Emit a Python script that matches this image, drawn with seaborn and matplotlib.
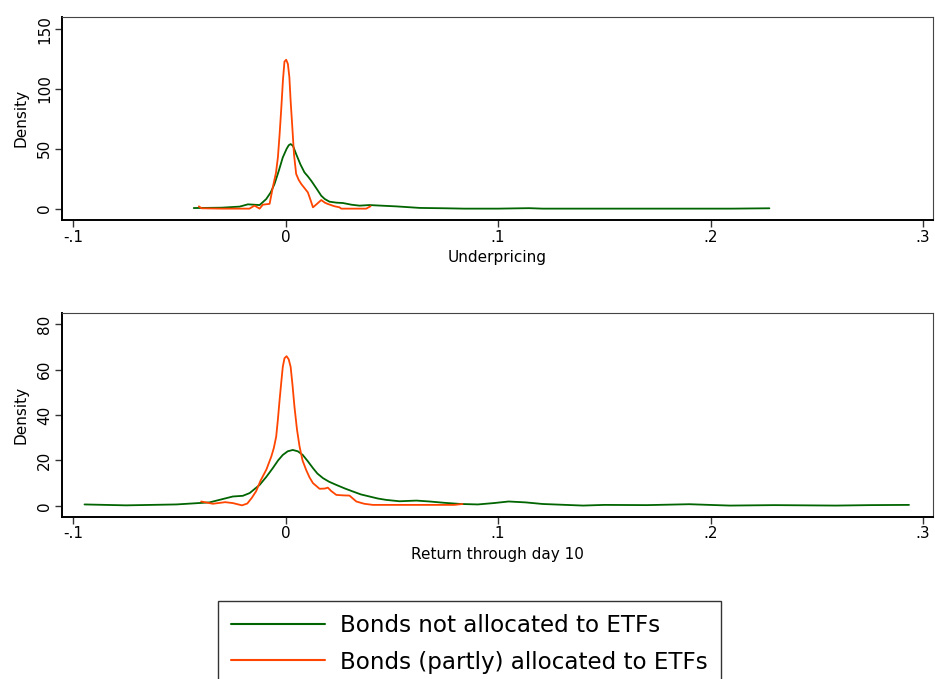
import matplotlib
matplotlib.use("Agg")
import matplotlib.pyplot as plt
import seaborn as sns
import pandas as pd

# ---- Data ----
# Panel 1: Underpricing
up_not_x = [-0.0432, -0.030, -0.0216, -0.0177, -0.0122, -0.0091, -0.0070, -0.0052, -0.0032,
            -0.0013, 0.0005, 0.0015, 0.0024, 0.0035, 0.0050, 0.0070, 0.0089, 0.0105,
            0.0121, 0.0145, 0.0168, 0.0185, 0.0207, 0.0240, 0.0270, 0.0310, 0.0348,
            0.0395, 0.0450, 0.0520, 0.0632, 0.0750, 0.0841, 0.1000, 0.1146, 0.1210,
            0.1500, 0.1800, 0.2100, 0.2277]
up_not_y = [0.5, 0.8, 1.7, 3.6, 3.0, 8.0, 13.5, 20.6, 31.5,
            42.8, 50.0, 53.0, 54.0, 52.5, 45.6, 37.0, 30.3, 27.0,
            23.3, 17.0, 10.8, 8.0, 5.8, 5.0, 4.7, 3.3, 2.5,
            3.0, 2.5, 1.9, 0.6, 0.3, 0.0, 0.0, 0.4, 0.0,
            0.0, 0.0, 0.0, 0.3]
up_etf_x = [-0.0408, -0.0395, -0.030, -0.017, -0.0146, -0.0122, -0.0107, -0.0075, -0.0060,
            -0.0045, -0.0036, -0.0028, -0.0020, -0.0012, -0.0005, 0.0003, 0.0011, 0.0018,
            0.0024, 0.0031, 0.0040, 0.0050, 0.0062, 0.0074, 0.0090, 0.0105, 0.0118,
            0.0129, 0.0145, 0.0168, 0.0185, 0.0199, 0.0230, 0.0254, 0.0262, 0.0380, 0.0400]
up_etf_y = [1.9, 0.3, 0.0, 0.0, 2.5, 0.0, 3.3, 4.0, 17.8,
            30.0, 42.8, 62.0, 84.0, 108.0, 123.0, 124.5, 121.0, 110.0,
            90.0, 70.6, 45.0, 29.0, 24.0, 20.6, 17.0, 13.6, 7.0,
            1.1, 3.5, 7.2, 5.0, 3.9, 2.0, 1.1, 0.0, 0.0, 2.0]

# Panel 2: Return through day 10
rt_not_x = [-0.0946, -0.075, -0.0514, -0.0358, -0.0248, -0.0201, -0.0169, -0.0122, -0.0090,
            -0.0060, -0.0035, -0.0013, 0.0010, 0.0034, 0.0058, 0.0081, 0.0105, 0.0129,
            0.0150, 0.0176, 0.0205, 0.0239, 0.0280, 0.0317, 0.0355, 0.0395, 0.0435,
            0.0474, 0.0536, 0.0616, 0.0678, 0.0750, 0.0825, 0.0905, 0.0980, 0.1050,
            0.1130, 0.1210, 0.1400, 0.1500, 0.1700, 0.1900, 0.2090, 0.2300, 0.2590,
            0.2750, 0.2934]
rt_not_y = [0.6, 0.2, 0.6, 1.5, 4.1, 4.4, 5.6, 9.2, 12.8,
            16.6, 20.0, 22.4, 24.0, 24.6, 24.0, 22.4, 19.6, 16.6,
            14.2, 12.2, 10.6, 9.2, 7.6, 6.3, 5.0, 4.1, 3.2,
            2.6, 2.0, 2.3, 1.9, 1.3, 0.8, 0.6, 1.2, 1.9,
            1.5, 0.8, 0.1, 0.4, 0.3, 0.7, 0.1, 0.3, 0.1,
            0.3, 0.4]
rt_etf_x = [-0.0397, -0.0342, -0.0284, -0.0248, -0.0205, -0.0180, -0.0158, -0.0138, -0.0118,
            -0.0090, -0.0067, -0.0055, -0.0044, -0.0036, -0.0028, -0.0020, -0.0013, -0.0005,
            0.0005, 0.0015, 0.0024, 0.0033, 0.0042, 0.0054, 0.0066, 0.0080, 0.0097,
            0.0113, 0.0129, 0.0160, 0.0185, 0.0199, 0.0215, 0.0239, 0.0270, 0.0301,
            0.0333, 0.0370, 0.0411, 0.0600, 0.0793, 0.0833]
rt_etf_y = [1.9, 0.9, 1.6, 1.2, 0.2, 1.0, 3.6, 6.5, 11.0,
            16.0, 21.7, 25.5, 30.5, 38.0, 46.6, 54.5, 61.2, 65.0,
            65.9, 64.5, 61.2, 53.0, 43.6, 33.5, 26.1, 20.0, 15.8,
            12.5, 10.0, 7.5, 7.6, 8.0, 6.5, 4.8, 4.6, 4.5,
            1.9, 0.9, 0.4, 0.4, 0.4, 0.8]

x_ticks = [-0.1, 0.0, 0.1, 0.2, 0.3]
x_tick_labels = ["-.1", "0", ".1", ".2", ".3"]
up_yticks = [0, 50, 100, 150]
rt_yticks = [0, 20, 40, 60, 80]
series_labels = ["Bonds not allocated to ETFs", "Bonds (partly) allocated to ETFs"]

GREEN = "#006400"
ORANGE = "#FF4500"

sns.set_theme(style="white")
plt.rcParams['font.family'] = ['DejaVu Sans']
plt.rcParams['text.color'] = 'black'
plt.rcParams['axes.labelcolor'] = 'black'
plt.rcParams['xtick.color'] = 'black'
plt.rcParams['ytick.color'] = 'black'

W, H = 935, 679
fig = plt.figure(figsize=(W / 100, H / 100), dpi=100)

def px_axes(l, t, r, b):
    return fig.add_axes([l / W, 1 - b / H, (r - l) / W, (b - t) / H])

ax1 = px_axes(62, 16.7, 933, 220)
ax2 = px_axes(62, 313.3, 933, 516.7)

def style(ax, yticks, ylim, xlabel):
    ax.set_xlim(-0.1052, 0.3047)
    ax.set_ylim(*ylim)
    ax.set_xticks(x_ticks)
    ax.set_xticklabels(x_tick_labels)
    ax.set_yticks(yticks)
    ax.set_yticklabels([str(v) for v in yticks], rotation=90, va="center")
    ax.set_xlabel(xlabel, fontsize=11, labelpad=4)
    ax.set_ylabel("Density", fontsize=11, labelpad=6)
    ax.tick_params(axis="both", which="major", labelsize=11, length=5, width=1,
                   color="#333333", labelcolor="black", direction="out",
                   bottom=True, left=True, pad=2)
    for s in ["left", "bottom"]:
        ax.spines[s].set_color("black")
        ax.spines[s].set_linewidth(1.4)
    for s in ["top", "right"]:
        ax.spines[s].set_color("#444444")
        ax.spines[s].set_linewidth(0.8)
    ax.grid(False)

df1 = pd.concat([
    pd.DataFrame({"x": up_not_x, "y": up_not_y, "grp": series_labels[0]}),
    pd.DataFrame({"x": up_etf_x, "y": up_etf_y, "grp": series_labels[1]}),
])
df2 = pd.concat([
    pd.DataFrame({"x": rt_not_x, "y": rt_not_y, "grp": series_labels[0]}),
    pd.DataFrame({"x": rt_etf_x, "y": rt_etf_y, "grp": series_labels[1]}),
])
pal = {series_labels[0]: GREEN, series_labels[1]: ORANGE}

sns.lineplot(data=df1, x="x", y="y", hue="grp", palette=pal, ax=ax1,
             estimator=None, sort=False, linewidth=1.3, legend=False)
sns.lineplot(data=df2, x="x", y="y", hue="grp", palette=pal, ax=ax2,
             estimator=None, sort=False, linewidth=1.3, legend=False)

style(ax1, up_yticks, (-9.5, 160.5), "Underpricing")
style(ax2, rt_yticks, (-4.8, 84.8), "Return through day 10")

handles = [plt.Line2D([], [], color=GREEN, lw=1.5),
           plt.Line2D([], [], color=ORANGE, lw=1.5)]
leg = fig.legend(handles, series_labels, loc="upper left",
                 bbox_to_anchor=(218 / W, 1 - 601 / H), fontsize=16.6,
                 frameon=True, fancybox=False, edgecolor="black",
                 handlelength=4.1, handletextpad=0.66, labelspacing=0.6,
                 borderpad=0.55, borderaxespad=0)
leg.get_frame().set_linewidth(1.0)
for t in leg.get_texts():
    t.set_color("black")

fig.savefig("out.png", dpi=100)
